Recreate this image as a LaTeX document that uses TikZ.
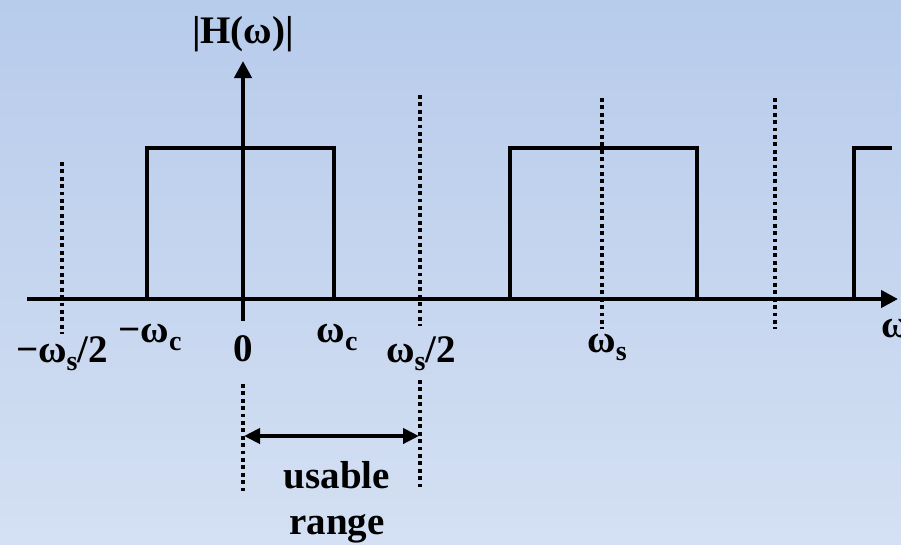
\documentclass[tikz,border=0pt]{standalone}
\usepackage{fontspec}
\setmainfont{Liberation Serif}
\usetikzlibrary{arrows.meta}
\newcommand{\mysub}[1]{\raisebox{-8pt}{\fontsize{28}{28}\selectfont #1}}
\begin{document}
\begin{tikzpicture}[x=1pt,y=-1pt,
  ln/.style={line width=4.2pt, line cap=butt},
  dotln/.style={line width=4pt, dash pattern=on 3.8pt off 3.6pt},
  lbl/.style={font=\fontsize{39}{39}\selectfont\bfseries, inner sep=0pt, anchor=base},
  axarrow/.style={-{Triangle[length=17pt,width=17pt]}}
]
\shade[top color={rgb,255:red,183;green,203;blue,235}, bottom color={rgb,255:red,212;green,224;blue,243}] (0,0) rectangle (901,544);
\useasboundingbox (0,0) rectangle (901,544);

% axes
\coordinate (xs) at (27,299);
\coordinate (xe) at (898,299);
\coordinate (ys) at (243,321);
\coordinate (ye) at (243,61);
\draw[ln, axarrow] (xs) -- (xe);
\draw[ln, axarrow] (ys) -- (ye);

% rectangles
\coordinate (r1a) at (147,299); \coordinate (r1b) at (147,148);
\coordinate (r1c) at (334,148); \coordinate (r1d) at (334,299);
\draw[ln, line join=miter] (r1a) -- (r1b) -- (r1c) -- (r1d);
\coordinate (r2a) at (510,299); \coordinate (r2b) at (510,148);
\coordinate (r2c) at (697,148); \coordinate (r2d) at (697,299);
\draw[ln, line join=miter] (r2a) -- (r2b) -- (r2c) -- (r2d);
\coordinate (r3a) at (854,299); \coordinate (r3b) at (854,148);
\coordinate (r3c) at (892,148);
\draw[ln, line join=miter] (r3a) -- (r3b) -- (r3c);

% dotted verticals
\coordinate (d1t) at (62,162);  \coordinate (d1b) at (62,334);
\coordinate (d2t) at (420,95);  \coordinate (d2b) at (420,326);
\coordinate (d3t) at (602,98);  \coordinate (d3b) at (602,329);
\coordinate (d4t) at (775,98);  \coordinate (d4b) at (775,329);
\draw[dotln] (d1t) -- (d1b);
\draw[dotln] (d2t) -- (d2b);
\draw[dotln] (d3t) -- (d3b);
\draw[dotln] (d4t) -- (d4b);
\coordinate (u1t) at (243,384); \coordinate (u1b) at (243,493);
\coordinate (u2t) at (420,380); \coordinate (u2b) at (420,489);
\draw[dotln] (u1t) -- (u1b);
\draw[dotln] (u2t) -- (u2b);

% usable range arrow
\coordinate (ua) at (244,436);
\coordinate (ub) at (419,436);
\draw[line width=4pt, {Triangle[length=16pt,width=15pt]}-{Triangle[length=16pt,width=15pt]}] (ua) -- (ub);

% labels
\node[lbl] (hlab) at (243,43) {|H(ω)|};
\node[lbl] (mwc) at (150,342) {−ω\mysub{c}};
\node[lbl] (zero) at (243,361) {0};
\node[lbl] (wc) at (337,342) {ω\mysub{c}};
\node[lbl] (ws2) at (421,362) {ω\mysub{s}/2};
\node[lbl] (mws2) at (62,362) {−ω\mysub{s}/2};
\node[lbl] (ws) at (607,352) {ω\mysub{s}};
\node[lbl, anchor=base west] (w) at (881,337) {ω};
\node[lbl] (usable) at (337,488) {usable};
\node[lbl] (range) at (337,534) {range};
\end{tikzpicture}
\end{document}
